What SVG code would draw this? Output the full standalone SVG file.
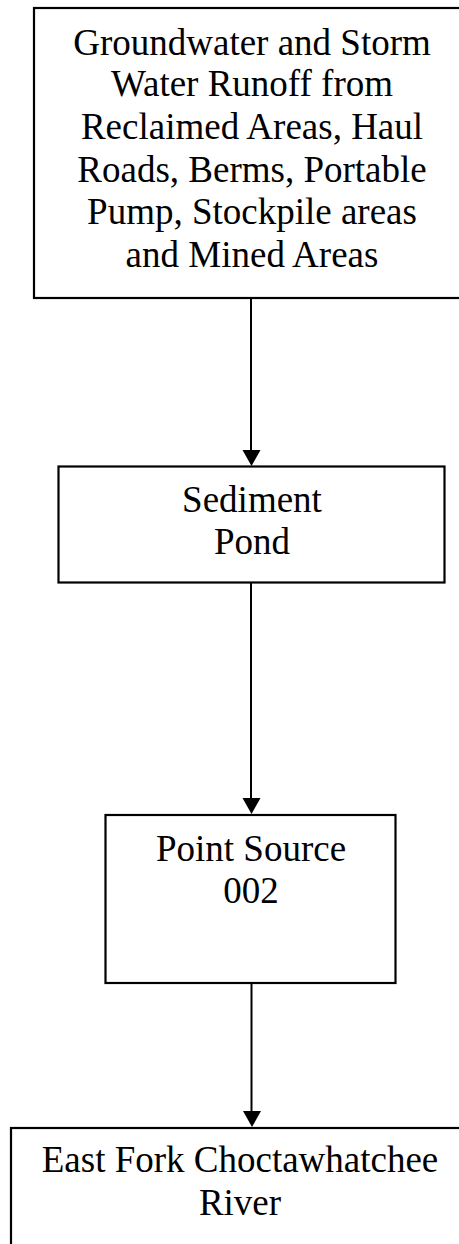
<svg xmlns="http://www.w3.org/2000/svg" width="459" height="1244" viewBox="0 0 459 1244">
<style>
.box{fill:#fff;stroke:#000;stroke-width:2.2}
.t{font-family:"Liberation Serif","Times New Roman",serif;font-size:37px;fill:#000;text-anchor:middle}
.c{stroke:#000;stroke-width:2;fill:none}
</style>
<defs>
<marker id="ah" viewBox="0 0 18 16" refX="9" refY="16" markerWidth="18" markerHeight="16" markerUnits="userSpaceOnUse" orient="auto-start-reverse">
<path d="M0,0 L18,0 L9,16 Z" fill="#000"/>
</marker>
</defs>
<rect width="459" height="1244" fill="#fff"/>
<g id="connectors">
<line class="c" x1="251" y1="298" x2="251" y2="450"/>
<path d="M242.5,450 L260.5,450 L251.5,466 Z" fill="#000"/>
<line class="c" x1="251" y1="583" x2="251" y2="798"/>
<path d="M242.5,798 L260.5,798 L251.5,814 Z" fill="#000"/>
<line class="c" x1="251.5" y1="983" x2="251.5" y2="1111"/>
<path d="M243,1111 L261,1111 L252,1127 Z" fill="#000"/>
</g>
<g id="node-source">
<rect class="box" x="34" y="8" width="440" height="290"/>
<text class="t" x="252" y="55">Groundwater and Storm</text>
<text class="t" x="252" y="96">Water Runoff from</text>
<text class="t" x="252" y="139">Reclaimed Areas, Haul</text>
<text class="t" x="252" y="182">Roads, Berms, Portable</text>
<text class="t" x="252" y="224">Pump, Stockpile areas</text>
<text class="t" x="252" y="267">and Mined Areas</text>
</g>
<g id="node-pond">
<rect class="box" x="58.5" y="466.5" width="386" height="116"/>
<text class="t" x="252" y="512">Sediment</text>
<text class="t" x="252" y="554">Pond</text>
</g>
<g id="node-point">
<rect class="box" x="105.5" y="815" width="290" height="168"/>
<text class="t" x="251" y="861">Point Source</text>
<text class="t" x="251" y="903">002</text>
</g>
<g id="node-river">
<rect class="box" x="11" y="1128" width="470" height="140"/>
<text class="t" x="240" y="1172">East Fork Choctawhatchee</text>
<text class="t" x="240" y="1215">River</text>
</g>
</svg>
